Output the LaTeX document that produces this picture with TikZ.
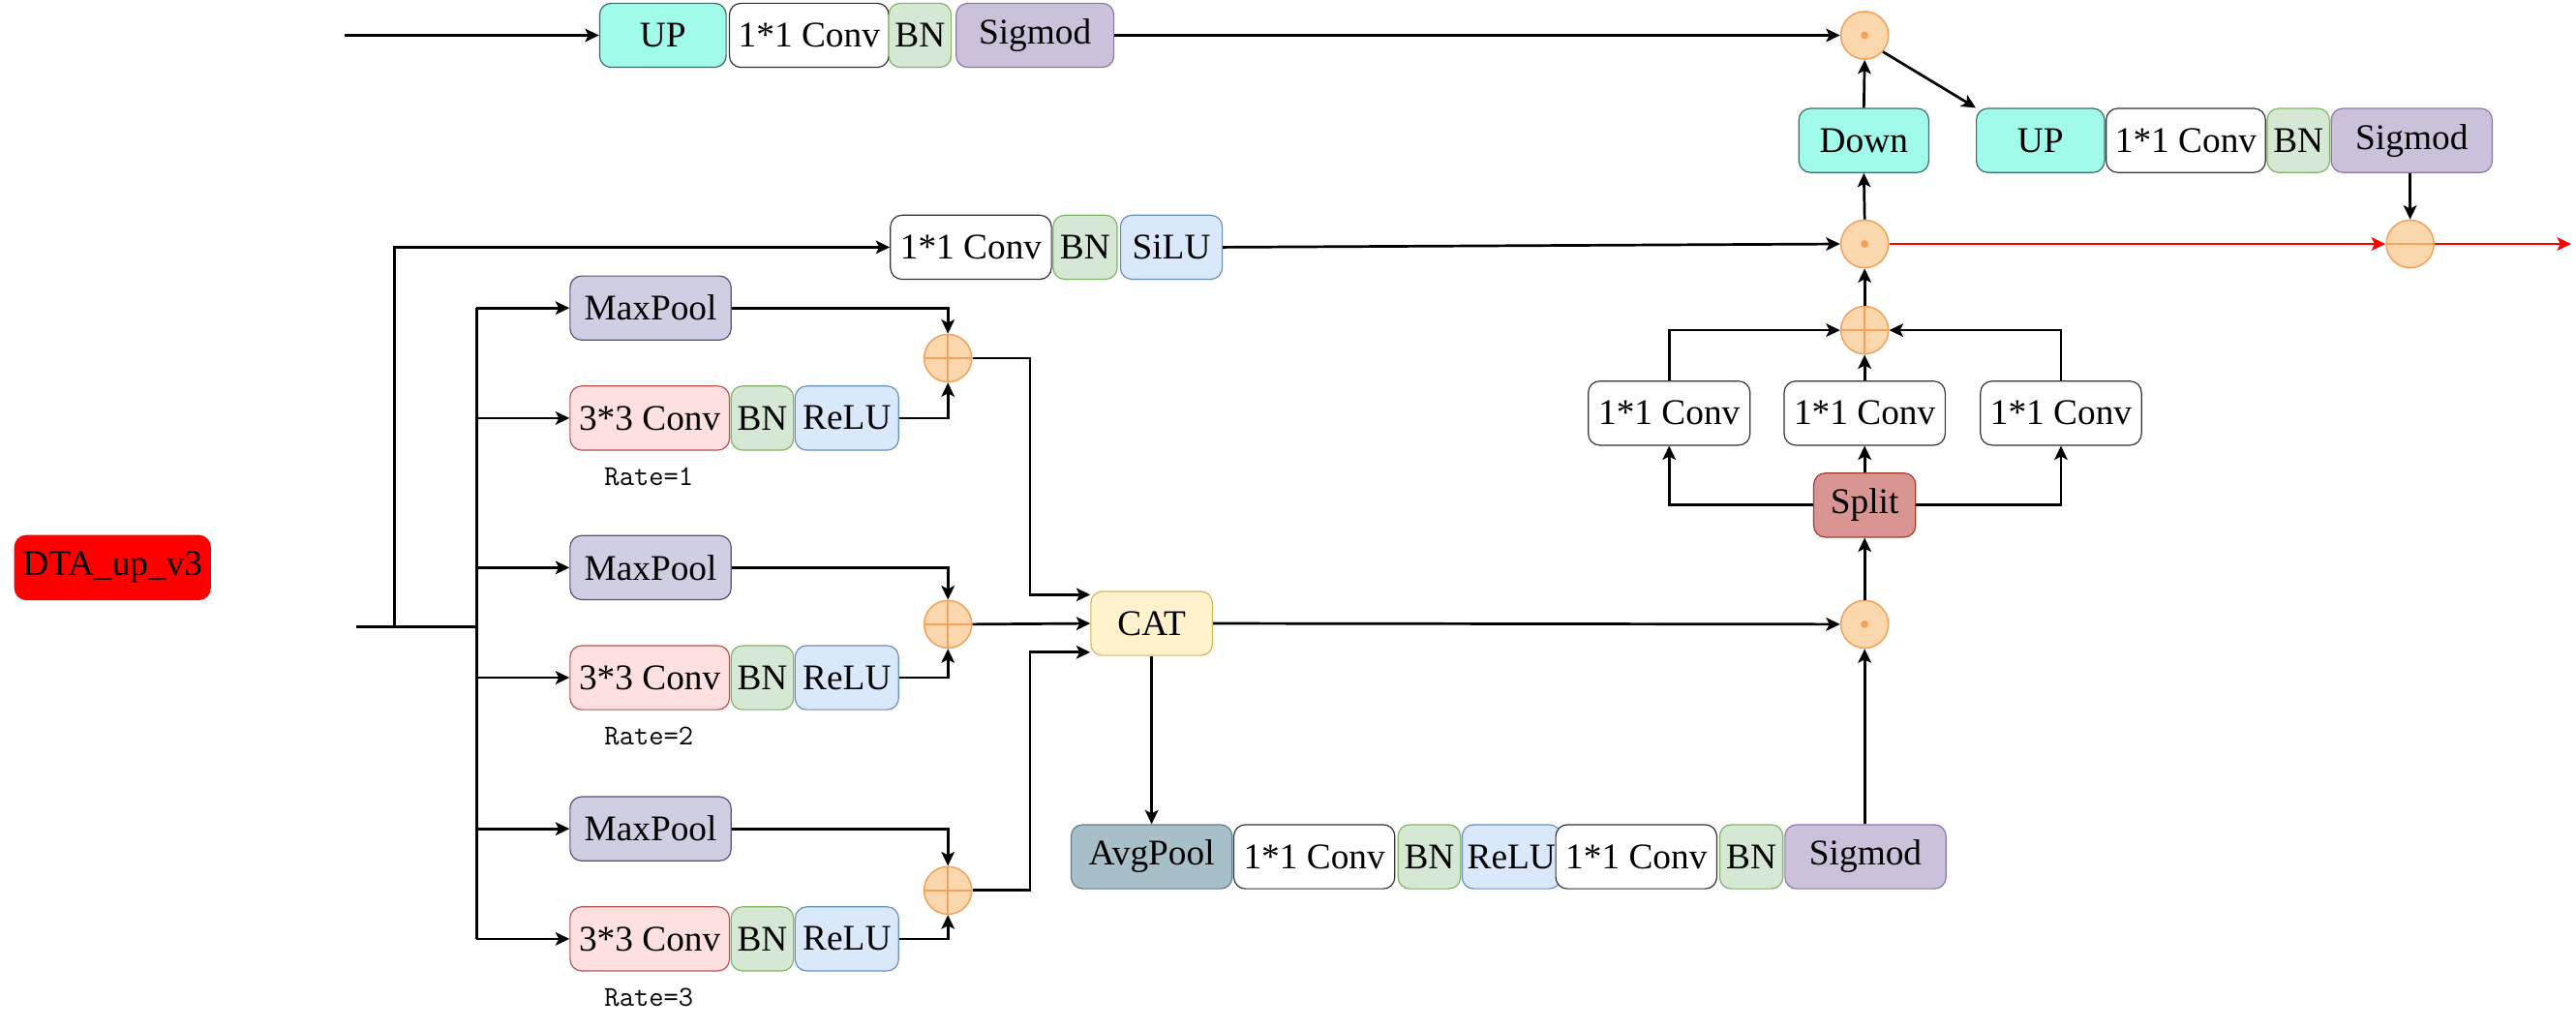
\documentclass[tikz,border=0pt]{standalone}
\usepackage{fontspec}
\setmainfont{Liberation Serif}
\usetikzlibrary{arrows.meta,calc}
\definecolor{aquaF}{HTML}{A0FBEA}
\definecolor{aquaD}{HTML}{3D6B6B}
\definecolor{convD}{HTML}{333333}
\definecolor{bnF}{HTML}{D5E8D4}
\definecolor{bnD}{HTML}{82B366}
\definecolor{sgF}{HTML}{CCC1DA}
\definecolor{sgD}{HTML}{8C77A8}
\definecolor{reF}{HTML}{DAE8FC}
\definecolor{reD}{HTML}{6C8EBF}
\definecolor{ctF}{HTML}{FFE0E0}
\definecolor{ctD}{HTML}{B85450}
\definecolor{mpF}{HTML}{D0CEE2}
\definecolor{mpD}{HTML}{56517E}
\definecolor{catF}{HTML}{FFF2CC}
\definecolor{catD}{HTML}{D6B656}
\definecolor{avgF}{HTML}{A7BFC9}
\definecolor{avgD}{HTML}{5D7F87}
\definecolor{spF}{HTML}{D99592}
\definecolor{spD}{HTML}{A33A33}
\definecolor{orF}{HTML}{FAD7AC}
\definecolor{orD}{HTML}{F4A15A}
\begin{document}
\begin{tikzpicture}[x=1pt,y=-1pt,
  blk/.style={draw, rounded corners=7pt, minimum height=39pt, inner sep=0pt,
    line width=0.7pt, font=\fontsize{22}{24}\selectfont},
  upbox/.style={blk, fill=aquaF, draw=aquaD},
  convbox/.style={blk, fill=white, draw=convD},
  bnbox/.style={blk, fill=bnF, draw=bnD},
  sgbox/.style={blk, fill=sgF, draw=sgD},
  rebox/.style={blk, fill=reF, draw=reD},
  ctbox/.style={blk, fill=ctF, draw=ctD},
  mpbox/.style={blk, fill=mpF, draw=mpD},
  opc/.style={circle, minimum size=29pt, inner sep=0pt, draw=orD, fill=orF, line width=0.9pt},
  mulc/.style={opc, path picture={\fill[orD] (path picture bounding box.center) circle (2.3pt);}},
  plusc/.style={opc, path picture={\draw[orD, line width=0.9pt]
     (path picture bounding box.north) -- (path picture bounding box.south)
     (path picture bounding box.west) -- (path picture bounding box.east);}},
  hlinec/.style={opc, path picture={\draw[orD, line width=0.9pt]
     (path picture bounding box.west) -- (path picture bounding box.east);}},
  arr/.style={-{Stealth[length=8.5pt,width=8pt,inset=2pt]}, line width=1.6pt},
  ln/.style={line width=1.6pt},
  ratetxt/.style={font=\ttfamily\fontsize{17.5}{20}\selectfont, inner sep=0pt}
]
\useasboundingbox (0,0) rectangle (1568,626);

% ---------- top row ----------
\coordinate (tin) at (210,21.5);
\node[upbox, minimum width=77pt] (up1) at (403.5,21.5) {UP};
\node[convbox, minimum width=97pt] (c1) at (492.5,21.5) {1*1 Conv};
\node[bnbox, minimum width=38pt] (bn1) at (560,21.5) {BN};
\node[sgbox, minimum width=96pt] (sg1) at (630,21.5) {Sigmod};
\node[mulc] (m1) at (1135,21.5) {};
\node[upbox, minimum width=79pt] (down) at (1134.5,85.5) {Down};
\node[upbox, minimum width=78pt] (up2) at (1242,85.5) {UP};
\node[convbox, minimum width=97pt] (c2) at (1330.5,85.5) {1*1 Conv};
\node[bnbox, minimum width=38pt] (bn2) at (1399,85.5) {BN};
\node[sgbox, minimum width=98pt] (sg2) at (1468,85.5) {Sigmod};

% ---------- second row ----------
\node[convbox, minimum width=98pt] (c3) at (591,150.5) {1*1 Conv};
\node[bnbox, minimum width=39pt] (bn3) at (660.5,150.5) {BN};
\node[rebox, minimum width=62pt] (silu) at (713,150.5) {SiLU};
\node[mulc] (m2) at (1135,148.5) {};
\coordinate (rout) at (1565,148.5);
\draw[arr, red] (m2.east) -- (1452,148.5) coordinate (m3w);
\node[hlinec] (m3) at (1467,148.5) {};
\draw[arr, red] (m3.east) -- (rout);

% ---------- input ----------
\node[blk, fill=red, draw=red, minimum width=119pt] (dta) at (68.5,345.5) {DTA\_up\_v3};
\coordinate (in) at (217,381.5);
\coordinate (j1) at (240,381.5);
\coordinate (j2) at (290,381.5);

% ---------- branches ----------
\foreach \i/\ym/\yc/\yp/\yr in {1/187.5/254.5/218/290, 2/345.5/412.5/380/448, 3/504.5/571.5/542/607}{
  \node[mpbox, minimum width=98pt] (mp\i) at (396,\ym) {MaxPool};
  \node[ctbox, minimum width=97pt] (cv\i) at (395.5,\yc) {3*3 Conv};
  \node[bnbox, minimum width=38pt] (bnb\i) at (464,\yc) {BN};
  \node[rebox, minimum width=63pt] (re\i) at (515.5,\yc) {ReLU};
  \node[plusc] (p\i) at (577,\yp) {};
  \node[ratetxt] (rate\i) at (395,\yr) {Rate=\i};
}

% ---------- CAT and bottom row ----------
\node[blk, fill=catF, draw=catD, minimum width=74pt] (cat) at (701,379.5) {CAT};
\node[blk, fill=avgF, draw=avgD, minimum width=98pt] (avg) at (701,521.5) {AvgPool};
\node[convbox, minimum width=98pt] (cA) at (800,521.5) {1*1 Conv};
\node[bnbox, minimum width=38pt] (bnB) at (870,521.5) {BN};
\node[rebox, minimum width=60pt] (reB) at (920,521.5) {ReLU};
\node[convbox, minimum width=98pt] (cB) at (996,521.5) {1*1 Conv};
\node[bnbox, minimum width=38.5pt] (bnC) at (1066,521.5) {BN};
\node[sgbox, minimum width=98pt] (sg3) at (1135.5,521.5) {Sigmod};

% ---------- right block ----------
\node[mulc] (m4) at (1135,380) {};
\node[blk, fill=spF, draw=spD, minimum width=62pt] (split) at (1135,307.5) {Split};
\node[convbox, minimum width=98.5pt] (cl) at (1016,251.5) {1*1 Conv};
\node[convbox, minimum width=98pt] (cm) at (1135,251.5) {1*1 Conv};
\node[convbox, minimum width=98pt] (cr) at (1254.5,251.5) {1*1 Conv};
\node[plusc] (p4) at (1135,201) {};

% ---------- connectors ----------
\draw[arr] (tin) -- (up1.west);
\draw[arr] (sg1.east) -- (m1.west);
\draw[arr] (down.north) -- (m1.south);
\draw[arr] (m1.-42) -- (up2.north west);
\draw[arr] (sg2.south -| m3.north) -- (m3.north);
\draw[arr] (m2.north) -- (down.south);
\draw[arr] (silu.east) -- (m2.west);
\draw[arr] (p4.north) -- (m2.south);
\draw[arr] (cm.north) -- (p4.south);
\draw[arr] (cl.north) |- (p4.west);
\draw[arr] (cr.north) |- (p4.east);
\draw[arr] (split.north) -- (cm.south);
\draw[arr] (split.west) -| (cl.south);
\draw[arr] (split.east) -| (cr.south);
\draw[arr] (m4.north) -- (split.south);
\draw[arr] (m4.south |- sg3.north) -- (m4.south);
\draw[arr] (cat.east) -- (m4.west);
\draw[arr] (cat.south) -- (avg.north);

\draw[ln] (in) -- (j2);
\draw[arr] (j1) |- (c3.west);
\draw[ln] (j2 |- mp1.west) -- (j2 |- cv3.west);
\foreach \i in {1,2,3}{
  \draw[arr] (j2 |- mp\i.west) -- (mp\i.west);
  \draw[arr] (j2 |- cv\i.west) -- (cv\i.west);
  \draw[arr] (mp\i.east) -| (p\i.north);
  \draw[arr] (re\i.east) -| (p\i.south);
}
\draw[arr] (p1.east) -- ++(35,0) |- ([yshift=17.5pt]cat.west);
\draw[arr] (p2.east) -- (cat.west);
\draw[arr] (p3.east) -- ++(35,0) |- ([yshift=-17.5pt]cat.west);
\end{tikzpicture}
\end{document}
